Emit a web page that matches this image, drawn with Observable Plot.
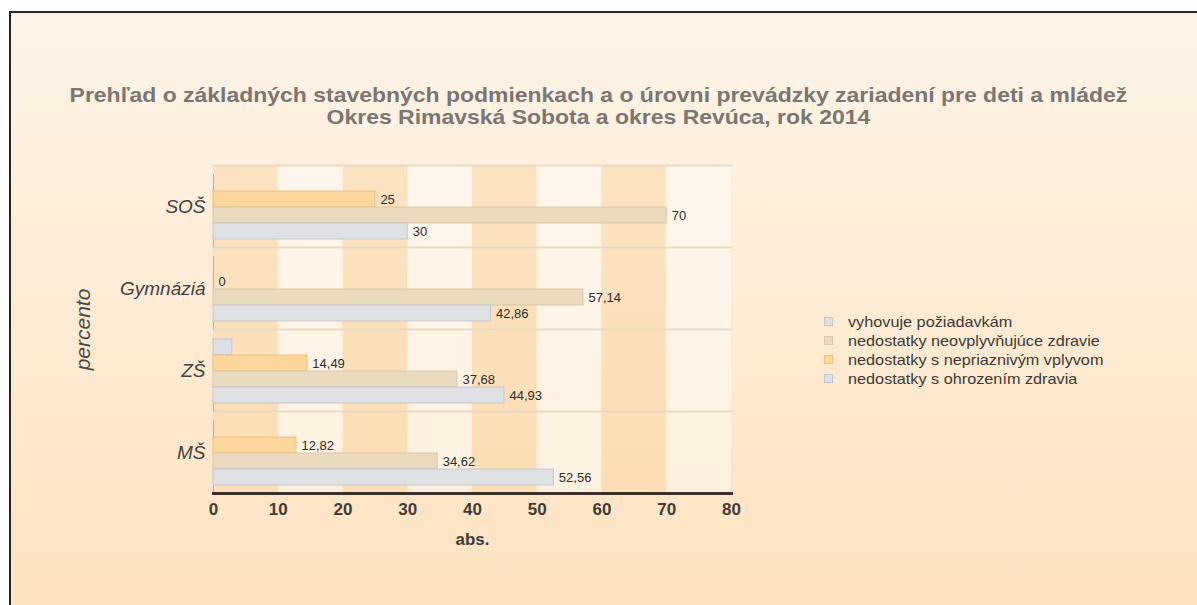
<!DOCTYPE html>
<html>
<head>
<meta charset="utf-8">
<script src="https://cdn.jsdelivr.net/npm/d3@7"></script>
<script src="https://cdn.jsdelivr.net/npm/@observablehq/plot@0.6"></script>
<style>
  html, body { margin: 0; padding: 0; background: #ffffff; overflow: hidden; }
  #wrap { position: relative; width: 1197px; height: 605px; font-family: "Liberation Sans", Arial, sans-serif; }
  #panel { position: absolute; left: 9px; top: 11px; width: 1188px; height: 594px;
    border-top: 2px solid #2a2522; border-left: 2px solid #2a2522; box-sizing: border-box;
    background: linear-gradient(#fdf4e8, #fde3c1); }
  #title { position: absolute; left: 0; top: 84px; width: 1197px; text-align: center;
    font-weight: bold; font-size: 20.5px; line-height: 22px; color: #7a7674;
    transform: scaleX(1.12); transform-origin: 599px 0; }
  #chart { position: absolute; left: 0; top: 0; }
  #legend { position: absolute; left: 824px; top: 312px; font-size: 14.5px; color: #3c3a38; }
  #legend .row { height: 19px; display: flex; align-items: center; }
  #legend .sw { width: 9px; height: 9px; margin-right: 15px; box-sizing: border-box; flex: none; }
  #legend .tx { display: inline-block; transform: scaleX(1.12); transform-origin: 0 50%; white-space: nowrap; }
</style>
</head>
<body>
<div id="wrap">
  <div id="panel"></div>
  <div id="title">Prehľad o základných stavebných podmienkach a o úrovni prevádzky zariadení pre deti a mládež<br>Okres Rimavská Sobota a okres Revúca, rok 2014</div>
  <div id="chart"></div>
  <div id="legend"></div>
</div>
<script>
// ---- data ----
const categories = ["SOŠ", "Gymnáziá", "ZŠ", "MŠ"];
const seriesNames = [
  "nedostatky s ohrozením zdravia",
  "nedostatky s nepriaznivým vplyvom",
  "nedostatky neovplyvňujúce zdravie",
  "vyhovuje požiadavkám"
];
const ohrozenie      = [0, 0, 2.9, 0];
const nepriaznivy    = [25, 0, 14.49, 12.82];
const neovplyvnujuce = [70, 57.14, 37.68, 34.62];
const vyhovuje       = [30, 42.86, 44.93, 52.56];
const legendOrder = [
  "vyhovuje požiadavkám",
  "nedostatky neovplyvňujúce zdravie",
  "nedostatky s nepriaznivým vplyvom",
  "nedostatky s ohrozením zdravia"
];
const xTicks = [0, 10, 20, 30, 40, 50, 60, 70, 80];
const bandStarts = [0, 10, 20, 30, 40, 50, 60, 70];

// ---- styles ----
const fillOf = {
  "vyhovuje požiadavkám": "#dfe1e4",
  "nedostatky neovplyvňujúce zdravie": "#eadbc0",
  "nedostatky s nepriaznivým vplyvom": "#fdd69c",
  "nedostatky s ohrozením zdravia": "#dde1e7"
};
const strokeOf = {
  "vyhovuje požiadavkám": "#c6c7c9",
  "nedostatky neovplyvňujúce zdravie": "#d9c7a8",
  "nedostatky s nepriaznivým vplyvom": "#ecbd7f",
  "nedostatky s ohrozením zdravia": "#c0c5cc"
};
const valueSets = [ohrozenie, nepriaznivy, neovplyvnujuce, vyhovuje];
const rows = [];
categories.forEach((c, i) => {
  seriesNames.forEach((s, j) => rows.push({cat: c, series: s, value: valueSets[j][i]}));
});
const labelled = rows.filter(d => d.series !== "nedostatky s ohrozením zdravia");
const bands = bandStarts.map((s, i) => ({start: s, end: s + 10, dark: i % 2 === 0}));
const fmt = v => String(v).replace(".", ",");

const chart = Plot.plot({
  width: 1197,
  height: 605,
  marginLeft: 213,
  marginRight: 466,
  marginTop: 165,
  marginBottom: 112,
  style: {background: "transparent", fontFamily: "'Liberation Sans', Arial, sans-serif", overflow: "visible"},
  x: {domain: [0, 80], axis: null},
  y: {domain: seriesNames, paddingInner: 0, paddingOuter: 0.48, align: 0.56, axis: null},
  fy: {domain: categories, padding: 0, axis: null},
  marks: [
    Plot.rect(bands, {x1: "start", x2: "end", fill: d => d.dark ? "#fbcb8c" : "#ffffff", fillOpacity: d => d.dark ? 0.33 : 0.45}),
    Plot.frame({anchor: "top", stroke: "#e8d9c4", strokeWidth: 2}),
    Plot.ruleX([0], {stroke: "#b5ada3", strokeWidth: 1, insetTop: 9}),
    Plot.barX(rows, {fy: "cat", y: "series", x: "value",
      fill: d => fillOf[d.series], stroke: d => strokeOf[d.series], strokeWidth: 1}),
    Plot.text(labelled, {fy: "cat", y: "series", x: "value", text: d => fmt(d.value),
      dx: 5, textAnchor: "start", fontSize: 13, fill: "#2e2c2a"}),
    Plot.frame({anchor: "bottom", stroke: "#3b2f27", strokeWidth: 3, fy: ["MŠ"]}),
    Plot.axisFy({anchor: "left", tickSize: 0, tickPadding: 8, fontSize: 19, fontStyle: "italic",
      fill: "#444140", label: null}),
    Plot.axisFy({anchor: "left", tickSize: 0, text: null, fontSize: 21, fontStyle: "italic",
      fill: "#4a4745", label: "percento", labelAnchor: "center", labelOffset: 138}),
    Plot.axisX(xTicks, {anchor: "bottom", tickSize: 0, tickPadding: 9, fontSize: 17, fontWeight: "bold",
      fill: "#3f3b37", label: "abs.", labelAnchor: "center", labelArrow: "none", labelOffset: 51})
  ]
});
document.getElementById("chart").appendChild(chart);

// legend
const lg = document.getElementById("legend");
legendOrder.forEach(s => {
  const r = document.createElement("div"); r.className = "row";
  const sw = document.createElement("div"); sw.className = "sw";
  sw.style.background = fillOf[s]; sw.style.border = "1px solid " + strokeOf[s];
  const t = document.createElement("span"); t.className = "tx"; t.textContent = s;
  r.appendChild(sw); r.appendChild(t); lg.appendChild(r);
});
</script>
</body>
</html>
